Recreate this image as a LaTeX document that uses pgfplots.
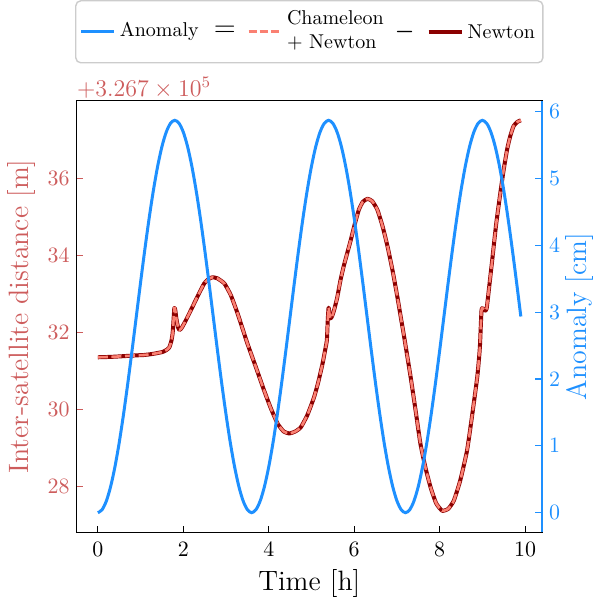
\documentclass[border=0pt]{standalone}
\usepackage{pgfplots}
\pgfplotsset{compat=1.18}
\definecolor{indianred}{RGB}{205,92,92}
\definecolor{dodgerblue}{RGB}{30,144,255}
\definecolor{salmonc}{RGB}{250,128,114}
\definecolor{darkredc}{RGB}{139,0,0}
\definecolor{legframe}{RGB}{204,204,204}

\pgfplotstableread{
t v
0.00 31.36
0.30 31.37
0.62 31.39
0.90 31.41
1.09 31.42
1.30 31.45
1.52 31.50
1.62 31.56
1.67 31.61
1.72 31.78
1.75 31.98
1.77 32.30
1.79 32.64
1.81 32.60
1.84 32.35
1.88 32.13
1.91 32.07
1.96 32.12
2.05 32.30
2.18 32.59
2.35 32.98
2.49 33.28
2.60 33.40
2.69 33.44
2.80 33.41
2.96 33.28
3.11 32.98
3.27 32.50
3.50 31.72
3.70 31.10
3.89 30.50
4.05 30.03
4.21 29.63
4.35 29.43
4.48 29.38
4.62 29.43
4.75 29.54
4.90 29.85
5.06 30.32
5.16 30.72
5.26 31.20
5.32 31.55
5.36 31.80
5.38 32.30
5.40 32.65
5.42 32.50
5.45 32.37
5.49 32.45
5.53 32.59
5.60 32.90
5.68 33.37
5.76 33.75
5.92 34.41
6.02 34.85
6.11 35.20
6.20 35.40
6.31 35.48
6.42 35.42
6.54 35.20
6.66 34.78
6.78 34.24
6.90 33.60
7.01 32.93
7.09 32.40
7.16 31.95
7.32 30.85
7.44 29.95
7.55 29.11
7.67 28.48
7.79 27.97
7.92 27.56
8.06 27.37
8.20 27.42
8.33 27.63
8.48 28.15
8.64 28.93
8.76 29.85
8.88 30.85
8.94 31.60
8.98 32.59
9.02 32.62
9.06 32.57
9.10 32.63
9.16 33.20
9.23 33.89
9.32 34.80
9.42 35.63
9.50 36.25
9.58 36.77
9.65 37.10
9.73 37.37
9.82 37.48
9.90 37.52
}\newtontable

\pgfplotstableread{
t v
0.0 0
0.1 0.045
0.2 0.177
0.3 0.393
0.4 0.687
0.5 1.048
0.6 1.468
0.7 1.931
0.8 2.425
0.9 2.935
1.0 3.445
1.1 3.939
1.2 4.403
1.3 4.822
1.4 5.183
1.5 5.477
1.6 5.693
1.7 5.825
1.8 5.870
1.9 5.825
2.0 5.693
2.1 5.477
2.2 5.183
2.3 4.822
2.4 4.403
2.5 3.939
2.6 3.445
2.7 2.935
2.8 2.425
2.9 1.931
3.0 1.468
3.1 1.048
3.2 0.687
3.3 0.393
3.4 0.177
3.5 0.045
3.6 0
3.7 0.045
3.8 0.177
3.9 0.393
4.0 0.687
4.1 1.048
4.2 1.468
4.3 1.931
4.4 2.425
4.5 2.935
4.6 3.445
4.7 3.939
4.8 4.403
4.9 4.822
5.0 5.183
5.1 5.477
5.2 5.693
5.3 5.825
5.4 5.870
5.5 5.825
5.6 5.693
5.7 5.477
5.8 5.183
5.9 4.822
6.0 4.403
6.1 3.939
6.2 3.445
6.3 2.935
6.4 2.425
6.5 1.931
6.6 1.468
6.7 1.048
6.8 0.687
6.9 0.393
7.0 0.177
7.1 0.045
7.2 0
7.3 0.045
7.4 0.177
7.5 0.393
7.6 0.687
7.7 1.048
7.8 1.468
7.9 1.931
8.0 2.425
8.1 2.935
8.2 3.445
8.3 3.939
8.4 4.403
8.5 4.822
8.6 5.183
8.7 5.477
8.8 5.693
8.9 5.825
9.0 5.870
9.1 5.825
9.2 5.693
9.3 5.477
9.4 5.183
9.5 4.822
9.6 4.403
9.7 3.939
9.8 3.445
9.9 2.935
}\anomalytable

\begin{document}
\begin{tikzpicture}
\path[use as bounding box] (-38.35pt,-34.35pt) rectangle (260.65pt,266.15pt);
\begin{axis}[
  name=ax1,
  at={(0pt,0pt)}, anchor=south west,
  scale only axis, width=232.65pt, height=215.8pt,
  xmin=-0.495, xmax=10.395, ymin=26.81, ymax=38.03,
  xtick={0,2,4,6,8,10}, ytick={28,30,32,34,36},
  xtick pos=bottom, ytick pos=left,
  tick align=inside, major tick length=3.3pt,
  axis line style={line width=0.8pt},
  tick style={line width=0.6pt},
  ytick style={indianred, line width=0.6pt},
  xtick style={black, line width=0.6pt},
  ticklabel style={font=\fontsize{11}{13}\selectfont},
  yticklabel style={text=indianred},
  xticklabel style={yshift=-1.3pt},
  xlabel={Time [h]},
  ylabel={Inter-satellite distance [m]},
  xlabel style={at={(rel axis cs:0.5,-0.1337)}, anchor=base, font=\fontsize{14}{17}\selectfont},
  ylabel style={at={(rel axis cs:-0.1182,0.5)}, anchor=center, font=\fontsize{14}{17}\selectfont, text=indianred},
]
\addplot[darkredc, line width=2pt, line join=round, smooth, tension=0.3] table[x=t,y=v] {\newtontable};
\addplot[salmonc, line width=1.3pt, smooth, tension=0.3, dash pattern=on 5pt off 1.8pt] table[x=t,y=v] {\newtontable};
\end{axis}
\node[anchor=base west, inner sep=0pt, text=indianred, font=\fontsize{11.5}{13}\selectfont] at ([yshift=2pt]ax1.north west) {$+3.267\times10^{5}$};
\begin{axis}[
  at={(0pt,0pt)}, anchor=south west,
  scale only axis, width=232.65pt, height=215.8pt,
  xmin=-0.495, xmax=10.395, ymin=-0.2935, ymax=6.1635,
  axis x line=none, axis y line*=right,
  ytick={0,1,2,3,4,5,6},
  tick align=inside, major tick length=3.3pt,
  y axis line style={dodgerblue, line width=0.8pt},
  ytick style={dodgerblue, line width=0.6pt},
  yticklabel style={text=dodgerblue, font=\fontsize{11}{13}\selectfont},
  ylabel={Anomaly [cm]},
  ylabel style={at={(rel axis cs:1.0802,0.5)}, anchor=center, font=\fontsize{14}{17}\selectfont, text=dodgerblue},
  legend columns=5,
  legend image code/.code={\draw[#1] (0pt,0pt) -- (16.5pt,0pt);},
  legend style={at={(0.5,1)}, anchor=south, yshift=18.6pt,
    draw=legframe, rounded corners=2.5pt, line width=0.7pt,
    font=\fontsize{10}{12}\selectfont,
    inner xsep=2pt, inner ysep=1.5pt,
    nodes={inner sep=2pt, text depth=},
    /tikz/every odd column/.style={column sep=0pt},
    /tikz/every even column/.style={column sep=2.6pt},
    cells={anchor=west}},
]
\addlegendimage{dodgerblue, line width=1.5pt}
\addlegendentry{Anomaly}
\addlegendimage{empty legend}
\addlegendentry{\hspace*{1pt}\fontsize{15}{15}\selectfont$=$\hspace*{1pt}}
\addlegendimage{salmonc, line width=1.5pt, dash pattern=on 4pt off 1.6pt}
\addlegendentry{\begin{tabular}{@{}l@{}}Chameleon\\+ Newton\end{tabular}}
\addlegendimage{empty legend}
\addlegendentry{\hspace*{-1pt}{\fontsize{11}{11}\selectfont\boldmath$-$}\hspace*{1.5pt}}
\addlegendimage{darkredc, line width=2pt}
\addlegendentry{Newton}
\addplot[dodgerblue, line width=1.5pt, smooth, forget plot] table[x=t,y=v] {\anomalytable};
\end{axis}
\end{tikzpicture}
\end{document}
